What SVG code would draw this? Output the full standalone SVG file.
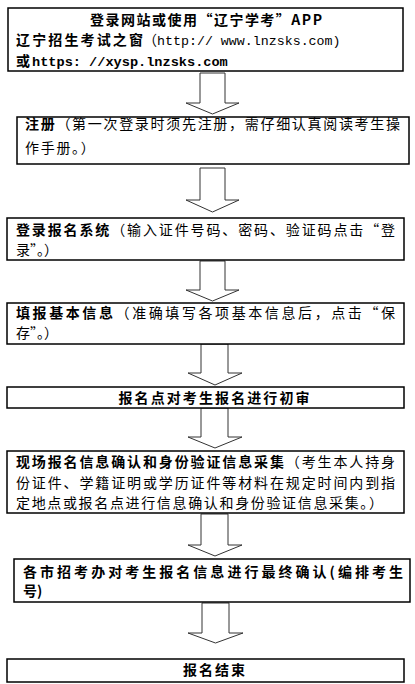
<svg xmlns="http://www.w3.org/2000/svg" width="415" height="684" viewBox="0 0 415 684">
<style>
.box{fill:#fff;stroke:#000;stroke-width:1.5}
.arr{fill:#fff;stroke:#333;stroke-width:1}
text{font-family:"Noto Sans CJK SC","Noto Sans",sans-serif;font-size:14px;fill:#000}
.b{font-weight:700}
.n{font-weight:400}
.m{font-family:"Liberation Mono","DejaVu Sans Mono",monospace;font-size:13.3px}
.mb{font-family:"Liberation Mono","DejaVu Sans Mono",monospace;font-size:13.6px;font-weight:700}
</style>
<rect width="415" height="684" fill="#fff"/>
<g id="connectors">
<polygon class="arr" points="200,73 225,73 225,103 239,103 212.5,114 186,103 200,103"/>
<polygon class="arr" points="200,168 225,168 225,200 239,200 212.5,212 186,200 200,200"/>
<polygon class="arr" points="200,261 225,261 225,290 239,290 212.5,301 186,290 200,290"/>
<polygon class="arr" points="201,344 228,344 228,373 242,373 215,385 188,373 201,373"/>
<polygon class="arr" points="201,408 228,408 228,437 242,437 215,448 188,437 201,437"/>
<polygon class="arr" points="201,514 228,514 228,545 242,545 215,556 188,545 201,545"/>
<polygon class="arr" points="202,603 229,603 229,633 243,633 215.5,643 188,633 202,633"/>
</g>
<g id="n1">
<rect class="box" x="8" y="8" width="395" height="63"/>
<text class="b" x="206" y="25" text-anchor="middle" textLength="232" lengthAdjust="spacing">登录网站或使用“辽宁学考”APP</text>
<text class="b" x="16" y="45" textLength="127" lengthAdjust="spacing">辽宁招生考试之窗</text>
<text class="n" x="143" y="45">（</text>
<text class="m" x="157" y="45">http:// www.lnzsks.com)</text>
<text class="b" x="16" y="66">或</text>
<text class="mb" x="32" y="66">https: //xysp.lnzsks.com</text>
</g>
<g id="n2">
<rect class="box" x="17" y="117" width="392" height="47"/>
<text x="25" y="129" textLength="375" lengthAdjust="spacing"><tspan class="b">注册</tspan><tspan class="n">（第一次登录时须先注册，需仔细认真阅读考生操</tspan></text>
<text class="n" x="25" y="153" letter-spacing="1.7">作手册。）</text>
</g>
<g id="n3">
<rect class="box" x="7" y="218" width="397" height="42"/>
<text x="16" y="235" textLength="379" lengthAdjust="spacing"><tspan class="b">登录报名系统</tspan><tspan class="n">（输入证件号码、密码、验证码点击“登</tspan></text>
<text class="n" x="16" y="255">录”。）</text>
</g>
<g id="n4">
<rect class="box" x="7" y="303" width="397" height="41"/>
<text x="16" y="318" textLength="379" lengthAdjust="spacing"><tspan class="b">填报基本信息</tspan><tspan class="n">（准确填写各项基本信息后，点击“保</tspan></text>
<text class="n" x="16" y="338">存”。）</text>
</g>
<g id="n5">
<rect class="box" x="7" y="387" width="397" height="21"/>
<text class="b" x="214" y="403" text-anchor="middle" textLength="191" lengthAdjust="spacing">报名点对考生报名进行初审</text>
</g>
<g id="n6">
<rect class="box" x="7" y="451" width="397" height="62"/>
<text x="16" y="467" textLength="379" lengthAdjust="spacing"><tspan class="b">现场报名信息确认和身份验证信息采集</tspan><tspan class="n">（考生本人持身</tspan></text>
<text class="n" x="16" y="488" textLength="379" lengthAdjust="spacing">份证件、学籍证明或学历证件等材料在规定时间内到指</text>
<text class="n" x="16" y="508" textLength="367" lengthAdjust="spacing">定地点或报名点进行信息确认和身份验证信息采集。）</text>
</g>
<g id="n7">
<rect class="box" x="14" y="559" width="396" height="43"/>
<text class="b" x="23" y="577" textLength="380" lengthAdjust="spacing">各市招考办对考生报名信息进行最终确认(编排考生</text>
<text class="b" x="23" y="596">号)</text>
</g>
<g id="n8">
<rect class="box" x="7" y="659" width="397" height="23"/>
<text class="b" x="214" y="675" text-anchor="middle" textLength="62" lengthAdjust="spacing">报名结束</text>
</g>
</svg>
